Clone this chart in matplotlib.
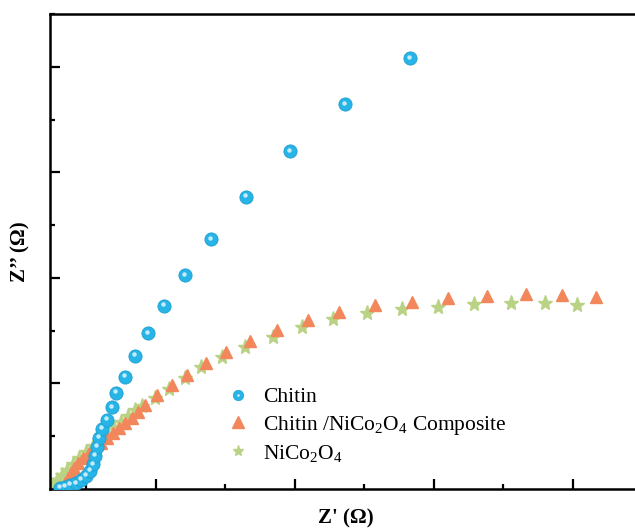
import matplotlib
matplotlib.use("Agg")
import matplotlib.pyplot as plt
from matplotlib.ticker import MultipleLocator
from matplotlib.legend_handler import HandlerTuple
import matplotlib.transforms as mtransforms

plt.rcParams['font.family'] = ['Liberation Serif', 'DejaVu Serif']
plt.rcParams['mathtext.fontset'] = 'custom'
plt.rcParams['mathtext.rm'] = 'Liberation Serif'
plt.rcParams['mathtext.it'] = 'Liberation Serif:italic'
plt.rcParams['mathtext.bf'] = 'Liberation Serif:bold'

# Nyquist data (Z' , Z''), arbitrary units
chitin_x = [0.62, 0.69, 0.76, 0.85, 0.92, 0.99, 1.05, 1.09, 1.12, 1.15, 1.18,
            1.22, 1.29, 1.37, 1.42, 1.55, 1.70, 1.88, 2.12, 2.42, 2.79, 3.29,
            3.93, 4.72, 5.655]
chitin_y = [0.02, 0.04, 0.08, 0.11, 0.17, 0.25, 0.34, 0.47, 0.63, 0.80, 0.97,
            1.14, 1.31, 1.55, 1.82, 2.12, 2.52, 2.95, 3.47, 4.05, 4.73, 5.53,
            6.40, 7.29, 8.16]

comp_x = [0.66, 0.69, 0.73, 0.78, 0.82, 0.88, 0.95, 1.04, 1.12, 1.21, 1.29,
          1.38, 1.47, 1.55, 1.65, 1.74, 1.84, 2.01, 2.23, 2.45, 2.72, 3.01,
          3.35, 3.74, 4.19, 4.63, 5.15, 5.68, 6.20, 6.76, 7.32, 7.84, 8.33]
comp_y = [0.04, 0.11, 0.21, 0.30, 0.40, 0.49, 0.59, 0.68, 0.78, 0.87, 0.97,
          1.06, 1.16, 1.25, 1.34, 1.46, 1.59, 1.78, 1.97, 2.16, 2.39, 2.59,
          2.80, 3.01, 3.20, 3.35, 3.48, 3.54, 3.62, 3.66, 3.69, 3.67, 3.64]

nco_x = [0.52, 0.58, 0.65, 0.72, 0.81, 0.89, 0.99, 1.09, 1.19, 1.29, 1.40,
         1.50, 1.60, 1.70, 1.80, 1.99, 2.19, 2.42, 2.65, 2.95, 3.28, 3.68,
         4.10, 4.55, 5.04, 5.54, 6.06, 6.58, 7.11, 7.60, 8.06]
nco_y = [0.08, 0.17, 0.27, 0.36, 0.47, 0.59, 0.70, 0.81, 0.93, 1.04, 1.16,
         1.27, 1.38, 1.50, 1.57, 1.72, 1.89, 2.10, 2.31, 2.50, 2.69, 2.88,
         3.07, 3.22, 3.33, 3.41, 3.45, 3.50, 3.52, 3.52, 3.48]

labels = ['Chitin', 'Chitin /NiCo$_2$O$_4$ Composite', 'NiCo$_2$O$_4$']

blue = '#27b4e6'
orange = '#f2875c'
green = '#b9d283'

fig = plt.figure(figsize=(6.35, 5.29), dpi=100)
ax = fig.add_axes([50 / 635, 40 / 529, 592.5 / 635, 475 / 529])

ax.plot(nco_x, nco_y, ls='none', marker='*', ms=11, color=green,
        mec=green, zorder=2)
ax.plot(comp_x, comp_y, ls='none', marker='^', ms=9, color=orange,
        mec=orange, zorder=3)
ax.plot(chitin_x, chitin_y, ls='none', marker='o', ms=9.5, color=blue,
        mec='#1e9fd0', mew=0.6, zorder=4)
# small highlight to give the balls a shiny look
hl_tr = mtransforms.offset_copy(ax.transData, fig=fig, x=-0.8, y=1.2, units='points')
ax.plot(chitin_x, chitin_y, ls='none', marker='o', ms=3.2, color='#d8f3ff',
        mec='none', alpha=0.9, zorder=5, transform=hl_tr)

ax.set_xlim(0.475, 9.0)
ax.set_ylim(0, 9.0)

ax.xaxis.set_major_locator(MultipleLocator(2))
ax.xaxis.set_minor_locator(MultipleLocator(1))
ax.yaxis.set_major_locator(MultipleLocator(2))
ax.yaxis.set_minor_locator(MultipleLocator(1))
ax.tick_params(which='both', direction='in', labelbottom=False, labelleft=False,
               width=1.6)
ax.tick_params(which='major', length=7)
ax.tick_params(which='minor', length=3.5)
for sp in ax.spines.values():
    sp.set_linewidth(1.8)

ax.set_xlabel("Z' (Ω)", fontsize=15, fontweight='bold', labelpad=14)
ax.set_ylabel("Z’’ (Ω)", fontsize=15, fontweight='bold', labelpad=14)

lb, = ax.plot([], [], ls='none', marker='o', ms=7.5, color=blue, mec='#1e9fd0', mew=0.5)
lh, = ax.plot([], [], ls='none', marker='o', ms=1.8, color='#d8f3ff', mec='none')
lc, = ax.plot([], [], ls='none', marker='^', ms=8, color=orange, mec=orange)
lg, = ax.plot([], [], ls='none', marker='*', ms=8, color=green, mec=green)
ax.legend([(lb, lh), lc, lg], labels, handler_map={tuple: HandlerTuple(ndivide=1)},
          loc='upper left', bbox_to_anchor=(0.285, 0.232), frameon=False,
          fontsize=15.5, handlelength=1.0, handletextpad=0.65, labelspacing=0.28,
          borderaxespad=0)

fig.savefig('out.png', dpi=100)
